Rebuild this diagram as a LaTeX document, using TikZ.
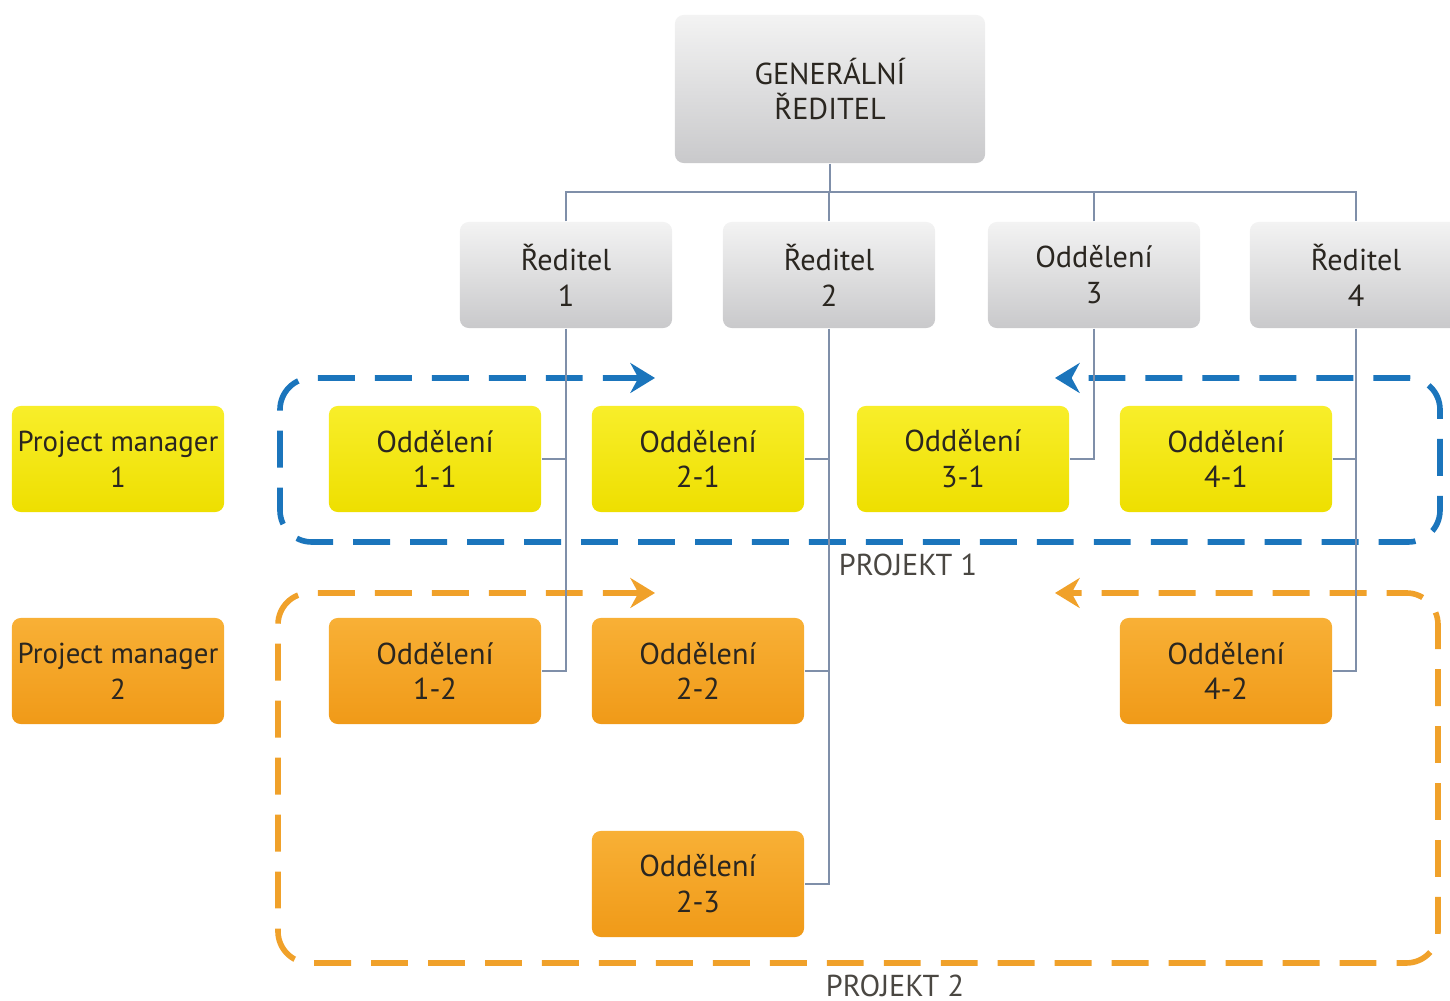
\documentclass[tikz,border=0pt]{standalone}
\usepackage{fontspec}
\setmainfont{PT Sans}
\usetikzlibrary{positioning,calc,arrows.meta}
\definecolor{projblue}{HTML}{1B75BC}
\definecolor{projorange}{HTML}{F0A12A}
\definecolor{linkgray}{HTML}{7F8FA9}
\definecolor{boxtext}{HTML}{2A2620}
\definecolor{yellowtop}{HTML}{F8EE2A}
\definecolor{yellowbot}{HTML}{EEDF00}
\definecolor{orangetop}{HTML}{F8B036}
\definecolor{orangebot}{HTML}{F09A18}
\definecolor{graytop}{HTML}{F3F3F3}
\definecolor{graybot}{HTML}{C9C9CB}
\tikzset{>={Stealth[length=7pt,width=8.5pt]}}

\begin{document}
\begin{tikzpicture}[x=0.01cm,y=-0.01cm,
  unitbox/.style={rounded corners=2.5pt,minimum width=2.12cm,minimum height=1.06cm,
    align=center,inner sep=0pt,text=boxtext,font=\fontsize{8.6}{10.2}\selectfont},
  chief/.style={unitbox,top color=graytop,bottom color=graybot},
  yellowbox/.style={unitbox,top color=yellowtop,bottom color=yellowbot},
  orangebox/.style={unitbox,top color=orangetop,bottom color=orangebot},
  pmbox/.style={font=\fontsize{8.2}{10.2}\selectfont},
  projframe/.style={line width=1.6pt,dash pattern=on 10.5pt off 5.7pt,rounded corners=9pt},
  projlabel/.style={inner sep=0pt,text=boxtext!85,font=\fontsize{8.6}{10.2}\selectfont},
  link/.style={linkgray,line width=0.55pt}]
\useasboundingbox (0,0) rectangle (1450,1001);

\node[chief,minimum width=3.1cm,minimum height=1.48cm] (gr) at (830,89) {GENERÁLNÍ\\ŘEDITEL};
\node[chief] (r1) at (566,275) {Ředitel\\1};
\node[chief] (r2) at (829,275) {Ředitel\\2};
\node[chief] (o3) at (1094,275) {Oddělení\\3};
\node[chief] (r4) at (1356,275) {Ředitel\\4};

\node[yellowbox,pmbox] (pm1) at (118,459) {Project manager\\1};
\node[yellowbox] (o11) at (435,459) {Oddělení\\1-1};
\node[yellowbox] (o21) at (698,459) {Oddělení\\2-1};
\node[yellowbox] (o31) at (963,459) {Oddělení\\3-1};
\node[yellowbox] (o41) at (1226,459) {Oddělení\\4-1};

\node[orangebox,pmbox] (pm2) at (118,671) {Project manager\\2};
\node[orangebox] (o12) at (435,671) {Oddělení\\1-2};
\node[orangebox] (o22) at (698,671) {Oddělení\\2-2};
\node[orangebox] (o42) at (1226,671) {Oddělení\\4-2};
\node[orangebox] (o23) at (698,884) {Oddělení\\2-3};

\node[projlabel] (p1) at (908,565) {PROJEKT 1};
\node[projlabel] (p2) at (895,986) {PROJEKT 2};

\coordinate (p1in) at (655,378);
\coordinate (p1out) at (1055,378);
\coordinate (p2in) at (655,593);
\coordinate (p2out) at (1055,593);
\draw[projframe,projblue,<->] (p1in) -- (280,378) -- (280,542) -- (1440,542) -- (1440,378) -- (p1out);
\draw[projframe,projorange,<->] (p2in) -- (278,593) -- (278,963) -- (1438,963) -- (1438,593) -- (p2out);

\coordinate (bus) at (830,192);
\draw[link] (gr.south) -- (gr.south |- bus);
\draw[link] (r1.north) -- (r1.north |- bus) -- (r4.north |- bus) -- (r4.north);
\draw[link] (r2.north) -- (r2.north |- bus);
\draw[link] (o3.north) -- (o3.north |- bus);
\draw[link] (r1.south) |- (o12.east);
\draw[link] (o11.east) -- (o11.east -| r1.south);
\draw[link] (r2.south) |- (o23.east);
\draw[link] (o21.east) -- (o21.east -| r2.south);
\draw[link] (o22.east) -- (o22.east -| r2.south);
\draw[link] (o3.south) |- (o31.east);
\draw[link] (r4.south) |- (o42.east);
\draw[link] (o41.east) -- (o41.east -| r4.south);
\end{tikzpicture}
\end{document}
